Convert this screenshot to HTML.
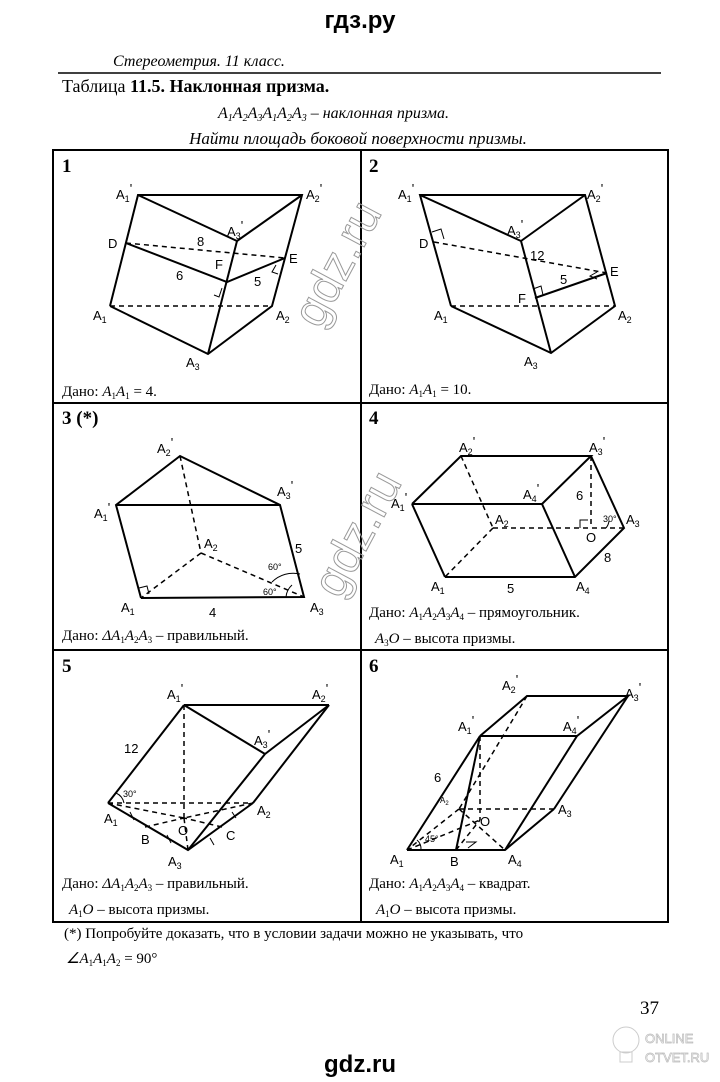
<!DOCTYPE html>
<html><head><meta charset="utf-8"><style>
body{margin:0;background:#fff;}
svg{display:block}
.s{font-family:"Liberation Serif",serif;}
.a{font-family:"Liberation Sans",sans-serif;font-size:13px;}
.l{stroke:#000;stroke-width:2;fill:none}
.d{stroke:#000;stroke-width:1.5;fill:none;stroke-dasharray:5,4}
.t{stroke:#000;stroke-width:1;fill:none}
</style></head><body>
<svg width="720" height="1082" viewBox="0 0 720 1082" xmlns="http://www.w3.org/2000/svg">
<text x="360" y="28" text-anchor="middle" font-family="Liberation Sans" font-weight="bold" font-size="24">гдз.ру</text>
<text x="113" y="66" class="s" font-style="italic" font-size="16">Стереометрия. 11 класс.</text>
<line x1="58" y1="73" x2="661" y2="73" stroke="#000" stroke-width="1.5"/>
<text x="62" y="92" class="s" font-size="18">Таблица <tspan font-weight="bold">11.5. Наклонная призма.</tspan></text>
<text x="218" y="118" class="s" font-style="italic" font-size="16">A<tspan font-size="10" dy="3">1</tspan><tspan dy="-3">A</tspan><tspan font-size="10" dy="3">2</tspan><tspan dy="-3">A</tspan><tspan font-size="10" dy="3">3</tspan><tspan dy="-3">A</tspan><tspan font-size="10" dy="3">1</tspan><tspan dy="-3">A</tspan><tspan font-size="10" dy="3">2</tspan><tspan dy="-3">A</tspan><tspan font-size="10" dy="3">3</tspan><tspan dy="-3"> – наклонная призма.</tspan></text>
<text x="358" y="144" text-anchor="middle" class="s" font-style="italic" font-size="17">Найти площадь боковой поверхности призмы.</text>

<!-- table -->
<rect x="53" y="150" width="615" height="772" fill="none" stroke="#000" stroke-width="2"/>
<line x1="361" y1="150" x2="361" y2="922" stroke="#000" stroke-width="2"/>
<line x1="53" y1="403" x2="668" y2="403" stroke="#000" stroke-width="2"/>
<line x1="53" y1="650" x2="668" y2="650" stroke="#000" stroke-width="2"/>

<g class="s" font-weight="bold" font-size="19">
<text x="62" y="172">1</text><text x="369" y="172">2</text>
<text x="62" y="424">3 (*)</text><text x="369" y="424">4</text>
<text x="62" y="672">5</text><text x="369" y="672">6</text>
</g>

<!-- panel 1 -->
<polyline class="l" points="110,306 138,195 302,195 272,306 208,354 110,306"/>
<line class="l" x1="138" y1="195" x2="237" y2="241"/>
<line class="l" x1="237" y1="241" x2="302" y2="195"/>
<line class="l" x1="237" y1="241" x2="208" y2="354"/>
<line class="d" x1="110" y1="306" x2="272" y2="306"/>
<line class="d" x1="126" y1="243" x2="285" y2="258"/>
<polyline class="l" points="126,243 227,282 285,258"/>
<polyline class="t" points="222,288 219,297 214,295"/>
<polyline class="t" points="276,265 272,272 278,274"/>
<g class="a">
<text x="116" y="199">A<tspan font-size="9" dy="3">1</tspan><tspan dy="-9">'</tspan></text>
<text x="306" y="199">A<tspan font-size="9" dy="3">2</tspan><tspan dy="-9">'</tspan></text>
<text x="227" y="236">A<tspan font-size="9" dy="3">3</tspan><tspan dy="-9">'</tspan></text>
<text x="108" y="248">D</text><text x="197" y="246">8</text><text x="289" y="263">E</text>
<text x="215" y="269">F</text><text x="176" y="280">6</text><text x="254" y="286">5</text>
<text x="93" y="320">A<tspan font-size="9" dy="3">1</tspan></text>
<text x="276" y="320">A<tspan font-size="9" dy="3">2</tspan></text>
<text x="186" y="367">A<tspan font-size="9" dy="3">3</tspan></text>
</g>
<text x="62" y="396" class="s" font-size="15">Дано: <tspan font-style="italic">A</tspan><tspan font-size="9" dy="3">1</tspan><tspan dy="-3" font-style="italic">A</tspan><tspan font-size="9" dy="3">1</tspan><tspan dy="-3">  = 4.</tspan></text>

<!-- panel 2 -->
<polyline class="l" points="451,306 420,195 585,195 615,306 551,353 451,306"/>
<line class="l" x1="420" y1="195" x2="521" y2="241"/>
<line class="l" x1="521" y1="241" x2="585" y2="195"/>
<line class="l" x1="521" y1="241" x2="551" y2="353"/>
<line class="d" x1="451" y1="306" x2="615" y2="306"/>
<line class="d" x1="434" y1="242" x2="607" y2="273"/>
<line class="l" x1="535" y1="298" x2="607" y2="273"/>
<polyline class="t" points="432,232 441,229 444,239"/>
<polyline class="t" points="533,289 541,286 543,295"/>
<polyline class="t" points="597,272 590,276 597,279"/>
<g class="a">
<text x="398" y="199">A<tspan font-size="9" dy="3">1</tspan><tspan dy="-9">'</tspan></text>
<text x="587" y="199">A<tspan font-size="9" dy="3">2</tspan><tspan dy="-9">'</tspan></text>
<text x="507" y="235">A<tspan font-size="9" dy="3">3</tspan><tspan dy="-9">'</tspan></text>
<text x="419" y="248">D</text><text x="530" y="260">12</text><text x="610" y="276">E</text>
<text x="518" y="303">F</text><text x="560" y="284">5</text>
<text x="434" y="320">A<tspan font-size="9" dy="3">1</tspan></text>
<text x="618" y="320">A<tspan font-size="9" dy="3">2</tspan></text>
<text x="524" y="366">A<tspan font-size="9" dy="3">3</tspan></text>
</g>
<text x="369" y="394" class="s" font-size="15">Дано: <tspan font-style="italic">A</tspan><tspan font-size="9" dy="3">1</tspan><tspan dy="-3" font-style="italic">A</tspan><tspan font-size="9" dy="3">1</tspan><tspan dy="-3">  = 10.</tspan></text>

<!-- panel 3 -->
<polyline class="l" points="141,598 116,505 180,456 280,505 304,597 141,598"/>
<line class="l" x1="116" y1="505" x2="280" y2="505"/>
<line class="d" x1="180" y1="456" x2="201" y2="553"/>
<line class="d" x1="201" y1="553" x2="141" y2="598"/>
<line class="d" x1="201" y1="553" x2="304" y2="597"/>
<polyline class="t" points="139,588 147,586 149,594"/>
<path class="t" d="M272,582 A30,30 0 0 1 300,574"/>
<path class="t" d="M286,597 A18,18 0 0 1 292,585"/>
<g class="a">
<text x="157" y="453">A<tspan font-size="9" dy="3">2</tspan><tspan dy="-9">'</tspan></text>
<text x="94" y="518">A<tspan font-size="9" dy="3">1</tspan><tspan dy="-9">'</tspan></text>
<text x="277" y="496">A<tspan font-size="9" dy="3">3</tspan><tspan dy="-9">'</tspan></text>
<text x="204" y="548">A<tspan font-size="9" dy="3">2</tspan></text>
<text x="295" y="553">5</text><text x="209" y="617">4</text>
<text x="121" y="612">A<tspan font-size="9" dy="3">1</tspan></text>
<text x="310" y="612">A<tspan font-size="9" dy="3">3</tspan></text>
<text x="268" y="570" font-size="9">60°</text><text x="263" y="595" font-size="9">60°</text>
</g>
<text x="62" y="640" class="s" font-size="15">Дано: <tspan font-style="italic">ΔA</tspan><tspan font-size="9" dy="3">1</tspan><tspan dy="-3" font-style="italic">A</tspan><tspan font-size="9" dy="3">2</tspan><tspan dy="-3" font-style="italic">A</tspan><tspan font-size="9" dy="3">3</tspan><tspan dy="-3"> – правильный.</tspan></text>

<!-- panel 4 -->
<polyline class="l" points="412,504 461,456 591,456 542,504 412,504"/>
<line class="l" x1="412" y1="504" x2="445" y2="577"/>
<polyline class="l" points="445,577 575,577 624,528 591,456"/>
<line class="l" x1="542" y1="504" x2="575" y2="577"/>
<line class="d" x1="461" y1="456" x2="493" y2="528"/>
<line class="d" x1="493" y1="528" x2="445" y2="577"/>
<line class="d" x1="493" y1="528" x2="624" y2="528"/>
<line class="d" x1="591" y1="456" x2="591" y2="528"/>
<polyline class="t" points="580,528 580,520 588,520"/>
<path class="t" d="M606,528 A14,14 0 0 0 609,521"/>
<g class="a">
<text x="459" y="452">A<tspan font-size="9" dy="3">2</tspan><tspan dy="-9">'</tspan></text>
<text x="589" y="452">A<tspan font-size="9" dy="3">3</tspan><tspan dy="-9">'</tspan></text>
<text x="391" y="508">A<tspan font-size="9" dy="3">1</tspan><tspan dy="-9">'</tspan></text>
<text x="523" y="499">A<tspan font-size="9" dy="3">4</tspan><tspan dy="-9">'</tspan></text>
<text x="495" y="524">A<tspan font-size="9" dy="3">2</tspan></text>
<text x="626" y="524">A<tspan font-size="9" dy="3">3</tspan></text>
<text x="576" y="500">6</text><text x="586" y="542">O</text><text x="603" y="522" font-size="9">30°</text>
<text x="604" y="562">8</text><text x="507" y="593">5</text>
<text x="431" y="591">A<tspan font-size="9" dy="3">1</tspan></text>
<text x="576" y="591">A<tspan font-size="9" dy="3">4</tspan></text>
</g>
<text x="369" y="617" class="s" font-size="15">Дано: <tspan font-style="italic">A</tspan><tspan font-size="9" dy="3">1</tspan><tspan dy="-3" font-style="italic">A</tspan><tspan font-size="9" dy="3">2</tspan><tspan dy="-3" font-style="italic">A</tspan><tspan font-size="9" dy="3">3</tspan><tspan dy="-3" font-style="italic">A</tspan><tspan font-size="9" dy="3">4</tspan><tspan dy="-3"> – прямоугольник.</tspan></text>
<text x="375" y="643" class="s" font-size="15"><tspan font-style="italic">A</tspan><tspan font-size="9" dy="3">3</tspan><tspan dy="-3" font-style="italic">O</tspan><tspan>  – высота призмы.</tspan></text>

<!-- panel 5 -->
<line class="l" x1="184" y1="705" x2="329" y2="705"/>
<line class="l" x1="184" y1="705" x2="265" y2="754"/>
<line class="l" x1="265" y1="754" x2="329" y2="705"/>
<line class="l" x1="184" y1="705" x2="108" y2="803"/>
<line class="l" x1="329" y1="705" x2="253" y2="803"/>
<line class="l" x1="265" y1="754" x2="188" y2="850"/>
<polyline class="l" points="108,803 188,850 253,803"/>
<line class="d" x1="108" y1="803" x2="253" y2="803"/>
<line class="d" x1="184" y1="705" x2="184" y2="818"/>
<line class="d" x1="108" y1="803" x2="184" y2="818"/>
<line class="d" x1="253" y1="803" x2="184" y2="818"/>
<line class="d" x1="188" y1="850" x2="184" y2="818"/>
<line class="d" x1="145" y1="827" x2="184" y2="818"/>
<line class="d" x1="222" y1="827" x2="184" y2="818"/>
<path class="t" d="M116,793 A14,14 0 0 1 124,803"/>
<line class="t" x1="130" y1="812" x2="134" y2="820"/><line class="t" x1="167" y1="835" x2="171" y2="843"/>
<line class="t" x1="232" y1="812" x2="236" y2="818"/><line class="t" x1="210" y1="838" x2="214" y2="845"/>
<g class="a">
<text x="167" y="699">A<tspan font-size="9" dy="3">1</tspan><tspan dy="-9">'</tspan></text>
<text x="312" y="699">A<tspan font-size="9" dy="3">2</tspan><tspan dy="-9">'</tspan></text>
<text x="254" y="745">A<tspan font-size="9" dy="3">3</tspan><tspan dy="-9">'</tspan></text>
<text x="124" y="753">12</text><text x="123" y="797" font-size="9">30°</text>
<text x="104" y="823">A<tspan font-size="9" dy="3">1</tspan></text>
<text x="257" y="815">A<tspan font-size="9" dy="3">2</tspan></text>
<text x="141" y="844">B</text><text x="178" y="835">O</text><text x="226" y="840">C</text>
<text x="168" y="866">A<tspan font-size="9" dy="3">3</tspan></text>
</g>
<text x="62" y="888" class="s" font-size="15">Дано: <tspan font-style="italic">ΔA</tspan><tspan font-size="9" dy="3">1</tspan><tspan dy="-3" font-style="italic">A</tspan><tspan font-size="9" dy="3">2</tspan><tspan dy="-3" font-style="italic">A</tspan><tspan font-size="9" dy="3">3</tspan><tspan dy="-3"> – правильный.</tspan></text>
<text x="69" y="914" class="s" font-size="15"><tspan font-style="italic">A</tspan><tspan font-size="9" dy="3">1</tspan><tspan dy="-3" font-style="italic">O</tspan><tspan>  – высота призмы.</tspan></text>

<!-- panel 6 -->
<polyline class="l" points="480,736 527,696 628,696 577,736 480,736"/>
<line class="l" x1="480" y1="736" x2="407" y2="850"/>
<line class="l" x1="480" y1="736" x2="456" y2="850"/>
<line class="l" x1="577" y1="736" x2="505" y2="850"/>
<line class="l" x1="628" y1="696" x2="554" y2="809"/>
<polyline class="l" points="407,850 505,850 554,809"/>
<line class="d" x1="527" y1="696" x2="459" y2="809"/>
<line class="d" x1="459" y1="809" x2="407" y2="850"/>
<line class="d" x1="459" y1="809" x2="554" y2="809"/>
<line class="d" x1="480" y1="736" x2="480" y2="820"/>
<line class="d" x1="407" y1="850" x2="480" y2="820"/>
<line class="d" x1="456" y1="850" x2="480" y2="820"/>
<line class="d" x1="459" y1="809" x2="505" y2="850"/>
<path class="t" d="M417,840 A12,12 0 0 1 421,850"/>
<polyline class="t" points="466,842 476,842 468,848"/>
<g class="a">
<text x="502" y="690">A<tspan font-size="9" dy="3">2</tspan><tspan dy="-9">'</tspan></text>
<text x="625" y="698">A<tspan font-size="9" dy="3">3</tspan><tspan dy="-9">'</tspan></text>
<text x="458" y="731">A<tspan font-size="9" dy="3">1</tspan><tspan dy="-9">'</tspan></text>
<text x="563" y="731">A<tspan font-size="9" dy="3">4</tspan><tspan dy="-9">'</tspan></text>
<text x="434" y="782">6</text>
<text x="440" y="803" font-size="8">A<tspan font-size="6" dy="2">2</tspan></text>
<text x="558" y="814">A<tspan font-size="9" dy="3">3</tspan></text>
<text x="480" y="826">O</text><text x="425" y="842" font-size="9">45°</text>
<text x="390" y="864">A<tspan font-size="9" dy="3">1</tspan></text>
<text x="450" y="866">B</text>
<text x="508" y="864">A<tspan font-size="9" dy="3">4</tspan></text>
</g>
<text x="369" y="888" class="s" font-size="15">Дано: <tspan font-style="italic">A</tspan><tspan font-size="9" dy="3">1</tspan><tspan dy="-3" font-style="italic">A</tspan><tspan font-size="9" dy="3">2</tspan><tspan dy="-3" font-style="italic">A</tspan><tspan font-size="9" dy="3">3</tspan><tspan dy="-3" font-style="italic">A</tspan><tspan font-size="9" dy="3">4</tspan><tspan dy="-3"> – квадрат.</tspan></text>
<text x="376" y="914" class="s" font-size="15"><tspan font-style="italic">A</tspan><tspan font-size="9" dy="3">1</tspan><tspan dy="-3" font-style="italic">O</tspan><tspan>  – высота призмы.</tspan></text>

<!-- watermark -->
<text x="0" y="0" transform="translate(340,600) rotate(-62)" font-family="Liberation Sans" font-size="48" fill="none" stroke="#999" stroke-width="1">gdz.ru</text>
<text x="0" y="0" transform="translate(320,330) rotate(-62)" font-family="Liberation Sans" font-size="48" fill="none" stroke="#999" stroke-width="1">gdz.ru</text>

<text x="64" y="938" class="s" font-size="15">(*) Попробуйте доказать, что в условии задачи можно не указывать, что</text>
<text x="66" y="963" class="s" font-size="15"><tspan font-style="italic">∠A</tspan><tspan font-size="9" dy="3">1</tspan><tspan dy="-3" font-style="italic">A</tspan><tspan font-size="9" dy="3">1</tspan><tspan dy="-3" font-style="italic">A</tspan><tspan font-size="9" dy="3">2</tspan><tspan dy="-3"> = 90°</tspan></text>
<text x="640" y="1014" class="s" font-size="19">37</text>
<text x="360" y="1072" text-anchor="middle" font-family="Liberation Sans" font-weight="bold" font-size="24">gdz.ru</text>
<g fill="none" stroke="#ccc" stroke-width="1">
<circle cx="626" cy="1040" r="13"/><rect x="620" y="1052" width="12" height="10"/>
</g>
<text x="645" y="1043" font-family="Liberation Sans" font-size="13" fill="none" stroke="#bbb" stroke-width="0.7">ONLINE</text>
<text x="645" y="1062" font-family="Liberation Sans" font-size="13" fill="none" stroke="#bbb" stroke-width="0.7">OTVET.RU</text>
</svg>
</body></html>
